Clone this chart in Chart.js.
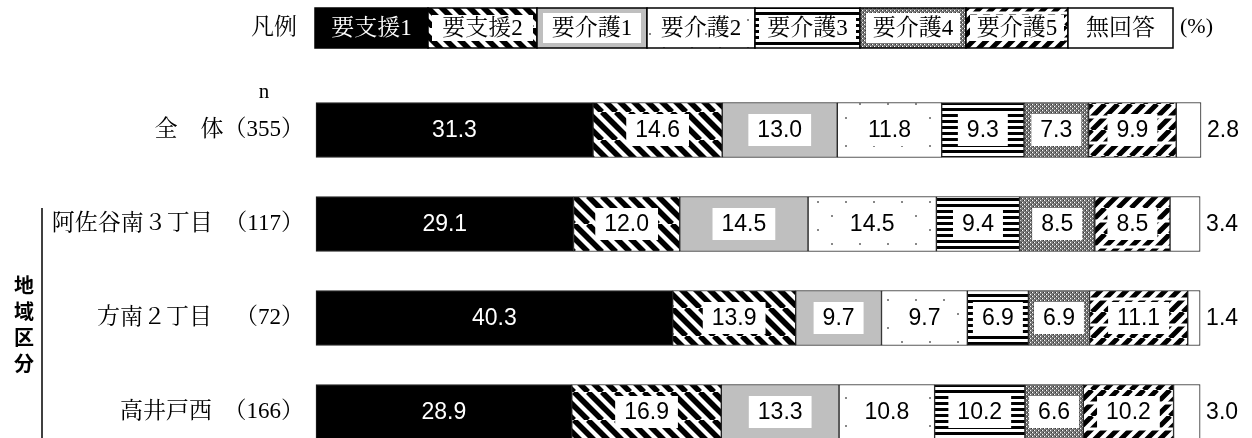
<!DOCTYPE html>
<html lang="ja">
<head>
<meta charset="utf-8">
<script src="https://cdn.jsdelivr.net/npm/chart.js"></script>
<style>
  html, body { margin: 0; padding: 0; background: #fff; }
  #wrap { position: relative; width: 1252px; height: 438px; }
</style>
</head>
<body>
<div id="wrap"><canvas id="chartKaigo"></canvas></div>
<script>
// 要介護度別 構成比（%）
const categories = ['全　体（355）', '阿佐谷南３丁目\u2002（117）', '方南２丁目\u2002　（72）', '高井戸西\u2002（166）'];
const seriesNames = ['要支援1', '要支援2', '要介護1', '要介護2', '要介護3', '要介護4', '要介護5', '無回答'];

const shienOne   = [31.3, 29.1, 40.3, 28.9];
const shienTwo   = [14.6, 12.0, 13.9, 16.9];
const kaigoOne   = [13.0, 14.5, 9.7, 13.3];
const kaigoTwo   = [11.8, 14.5, 9.7, 10.8];
const kaigoThree = [9.3, 9.4, 6.9, 10.2];
const kaigoFour  = [7.3, 8.5, 6.9, 6.6];
const kaigoFive  = [9.9, 8.5, 11.1, 10.2];
const noAnswer   = [2.8, 3.4, 1.4, 3.0];

const seriesValues = [shienOne, shienTwo, kaigoOne, kaigoTwo, kaigoThree, kaigoFour, kaigoFive, noAnswer];

// Latin digits from Liberation Serif (fixed half width), kanji from the CJK serif
const MINCHO = '"Liberation Serif", "Noto Serif CJK JP", "Noto Sans CJK JP", serif';
const NUMFONT = '"Liberation Sans", Arial, sans-serif';

// ---- fill patterns ----
function makeTile(w, h, draw) {
    const c = document.createElement('canvas');
    c.width = w; c.height = h;
    const g = c.getContext('2d');
    g.fillStyle = '#fff';
    g.fillRect(0, 0, w, h);
    draw(g, w, h);
    return document.createElement('canvas').getContext('2d').createPattern(c, 'repeat');
}

// 45-degree stripes; tile is p wide and 2p tall so an optional break can sit once per tile
function diagonal(dir, p, lw, gap) {
    return makeTile(p, 2 * p, (g) => {
        g.strokeStyle = '#000';
        g.lineWidth = lw;
        g.beginPath();
        for (let k = -3; k <= 2; k++) {
            if (dir === 'back') { g.moveTo(k * p, 0); g.lineTo(k * p + 2 * p, 2 * p); }
            else { g.moveTo(k * p, 2 * p); g.lineTo(k * p + 2 * p, 0); }
        }
        g.stroke();
        if (gap) {
            g.fillStyle = '#fff';
            g.fillRect(0, p - gap / 2, p, gap);
        }
    });
}

const patHorizontal = makeTile(1, 6, (g) => { g.fillStyle = '#000'; g.fillRect(0, 0, 1, 3); });

const patChecker = makeTile(4, 4, (g) => {
    g.fillStyle = '#7a7a7a'; g.fillRect(0, 0, 4, 4);
    g.fillStyle = '#fff'; g.fillRect(0, 0, 1, 1); g.fillRect(2, 2, 1, 1);
    g.fillStyle = '#333'; g.fillRect(1, 2, 1, 1); g.fillRect(3, 0, 1, 1);
});

const patDots = makeTile(28, 28, (g) => {
    g.fillStyle = '#888';
    g.fillRect(5, 5, 2, 2);
    g.fillRect(19, 19, 2, 2);
});

const fills = [
    '#000000',
    diagonal('back', 14, 5.5, 0),
    '#bfbfbf',
    patDots,
    patHorizontal,
    patChecker,
    diagonal('fwd', 13, 5, 3),
    '#ffffff'
];

// ---- legend row across the top ----
const legendEdges = [315, 428, 537, 647, 755, 860, 966, 1068, 1173];

const topLegend = {
    id: 'topLegend',
    afterDraw(chart) {
        const ctx = chart.ctx;
        const top = 8, bottom = 48;
        ctx.save();
        ctx.textBaseline = 'middle';
        ctx.font = '23px ' + MINCHO;
        ctx.fillStyle = '#000';
        ctx.textAlign = 'right';
        ctx.fillText('凡例', 297, 28);
        ctx.textAlign = 'left';
        ctx.font = '22px ' + MINCHO;
        ctx.fillText('(%)', 1180, 27);

        seriesNames.forEach((name, i) => {
            const x0 = legendEdges[i], x1 = legendEdges[i + 1];
            ctx.fillStyle = fills[i];
            ctx.fillRect(x0, top, x1 - x0, bottom - top);
            if (i !== 0 && i !== seriesNames.length - 1 && i !== 3) {
                ctx.fillStyle = '#fff';
                const inX = i === 2 || i === 5 ? 6 : 4;
                const inY = i === 2 || i === 5 ? 5 : 7;
                ctx.fillRect(x0 + inX, top + inY, x1 - x0 - 2 * inX, bottom - top - 2 * inY);
            }
            ctx.strokeStyle = '#000';
            ctx.lineWidth = 1.5;
            ctx.strokeRect(x0, top, x1 - x0, bottom - top);
            ctx.fillStyle = i === 0 ? '#fff' : '#000';
            ctx.textAlign = 'center';
            ctx.font = '23px ' + MINCHO;
            ctx.fillText(name, (x0 + x1) / 2, 29);
        });
        ctx.restore();
    }
};

// ---- category labels, "n" and the 地域区分 bracket ----
const sideLabels = {
    id: 'sideLabels',
    afterDraw(chart) {
        const ctx = chart.ctx;
        const yScale = chart.scales.y;
        ctx.save();
        ctx.fillStyle = '#000';
        ctx.textBaseline = 'middle';
        ctx.font = '23px ' + MINCHO;
        ctx.textAlign = 'right';
        categories.forEach((c, i) => {
            ctx.fillText(c, 304, yScale.getPixelForValue(i));
        });
        ctx.textAlign = 'center';
        ctx.font = '21px ' + MINCHO;
        ctx.fillText('n', 264, 92);

        ctx.font = 'bold 20px "Noto Sans CJK JP", sans-serif';
        ['地', '域', '区', '分'].forEach((ch, k) => ctx.fillText(ch, 24, 285 + k * 26));
        ctx.strokeStyle = '#000';
        ctx.lineWidth = 1.5;
        ctx.beginPath();
        ctx.moveTo(42, 208);
        ctx.lineTo(42, 438);
        ctx.stroke();
        ctx.restore();
    }
};

// ---- value labels on the segments ----
const valueLabels = {
    id: 'valueLabels',
    afterDatasetsDraw(chart) {
        const ctx = chart.ctx;
        const last = chart.data.datasets.length - 1;
        ctx.save();
        ctx.font = '23px ' + NUMFONT;
        ctx.textBaseline = 'middle';
        chart.data.datasets.forEach((ds, i) => {
            chart.getDatasetMeta(i).data.forEach((bar, j) => {
                const text = ds.data[j].toFixed(1);
                if (i === last) {
                    ctx.fillStyle = '#000';
                    ctx.textAlign = 'left';
                    ctx.fillText(text, bar.x + 6, bar.y + 1);
                    return;
                }
                const cx = (bar.base + bar.x) / 2;
                ctx.textAlign = 'center';
                if (i === 0) {
                    ctx.fillStyle = '#fff';
                    ctx.fillText(text, cx, bar.y + 1);
                    return;
                }
                const w = ctx.measureText(text).width + 18;
                ctx.fillStyle = '#fff';
                ctx.fillRect(cx - w / 2, bar.y - 16, w, 32);
                ctx.fillStyle = '#000';
                ctx.fillText(text, cx, bar.y + 1);
            });
        });
        ctx.restore();
    }
};

const datasets = seriesNames.map((name, i) => ({
    label: name,
    data: seriesValues[i],
    backgroundColor: fills[i],
    borderColor: '#222',
    borderWidth: 1,
    borderSkipped: false,
    barThickness: 55,
    clip: false
}));

new Chart(document.getElementById('chartKaigo'), {
    type: 'bar',
    data: { labels: categories, datasets: datasets },
    options: {
        indexAxis: 'y',
        responsive: true,
        maintainAspectRatio: false,
        animation: false,
        layout: { padding: { left: 316, right: 51, top: 130, bottom: 26 } },
        plugins: { legend: { display: false }, tooltip: { enabled: false } },
        scales: {
            x: { stacked: true, min: 0, max: 100, display: false },
            y: { stacked: true, display: false, offset: false }
        }
    },
    plugins: [topLegend, sideLabels, valueLabels]
});
</script>
</body>
</html>
